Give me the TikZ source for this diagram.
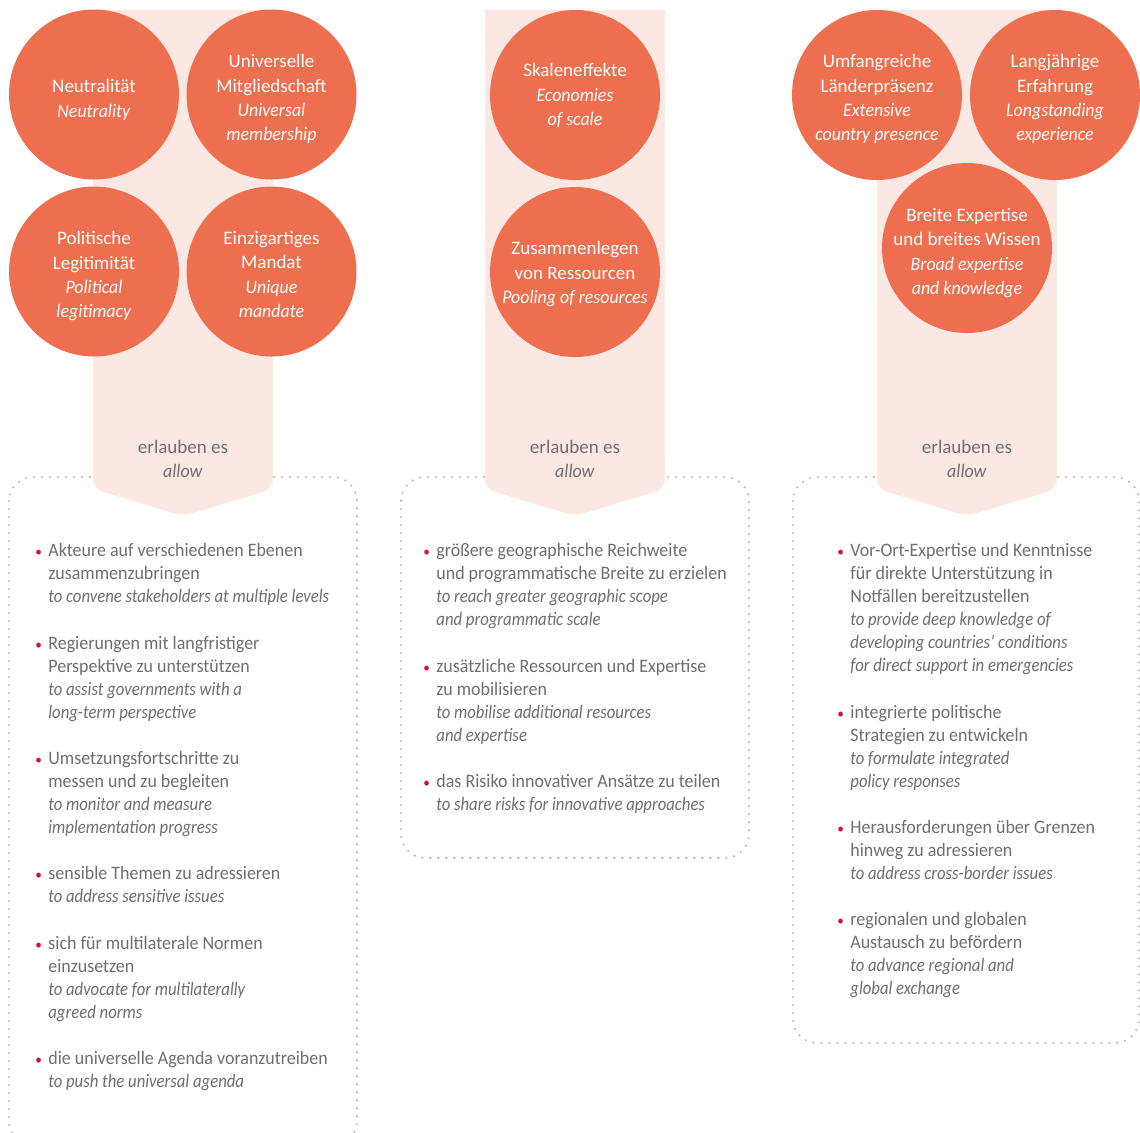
\documentclass[tikz,border=0pt]{standalone}
\usepackage{fontspec}
\setmainfont{Carlito}[ItalicFeatures={FakeStretch=0.94}]
\newfontfamily\gainfont{Carlito}[UprightFeatures={FakeStretch=0.945}, ItalicFeatures={FakeStretch=0.88}]
\usetikzlibrary{positioning}
\definecolor{circfill}{HTML}{EE6F4F}
\definecolor{bandpink}{HTML}{FCE8E3}
\definecolor{textgray}{HTML}{6E6E6E}
\definecolor{dotgray}{HTML}{BBBBBB}
\definecolor{bulletred}{HTML}{D4103C}
\newcommand\redbullet{\llap{\textcolor{bulletred}{\scriptsize\textbullet}\hspace{3.2pt}}}
\tikzset{band/.style = {fill=bandpink},
         topic/.style = {circle, fill=circfill, minimum size=85pt, inner sep=0pt},
         topictext/.style = {anchor=north, inner sep=0pt, text=white, align=center,
                             font=\fontsize{9.5}{12.2}\selectfont},
         allowlabel/.style = {text=textgray, align=center, font=\fontsize{9.5}{12}\selectfont},
         gainbox/.style = {draw=dotgray, line width=1.2pt, line cap=round,
                           dash pattern=on 0pt off 4pt, rounded corners=12pt},
         gain/.style = {anchor=north west, inner sep=0pt, text=textgray, align=left,
                        font=\gainfont\fontsize{9.5}{11.5}\selectfont}}

\begin{document}
\begin{tikzpicture}[x=0.5pt, y=-0.5pt]
    \useasboundingbox (0, 0) rectangle (1140, 1132);

    % dotted frames
    \draw [gainbox] (9, 477) rectangle (357, 1145);
    \draw [gainbox] (401, 477) rectangle (749, 858);
    \draw [gainbox] (793, 477) rectangle (1139, 1043);

    % pink bands ending in an arrow
    \foreach \cx in {183, 575, 967} {
      \fill [band] (\cx-90, 10) rectangle (\cx+90, 470);
      \fill [band, rounded corners=5pt] (\cx-90, 440) -- (\cx+90, 440) -- (\cx+90, 489) -- (\cx, 516) -- (\cx-90, 489) -- cycle;
      \node [allowlabel] (allow\cx) at (\cx, 459) {erlauben es\\\textit{allow}};
    }

    % strengths
    \foreach \name/\x/\y in {neutral/94/94.5, member/271.5/94.5, legit/94/271.5, mandate/271.5/271.5,
                             scale/575/95, pooling/575/272,
                             presence/877/95, experience/1055/95, expertise/967/248} {
      \node [topic] (\name) at (\x, \y) {};
    }
    \node [topictext] (neutraltext) at (94, 79) {Neutralität\\\textit{Neutrality}};
    \node [topictext] (membertext) at (271.5, 54) {Universelle\\Mitgliedschaft\\\textit{Universal}\\\textit{membership}};
    \node [topictext] (legittext) at (94, 231) {Politische\\Legitimität\\\textit{Political}\\\textit{legitimacy}};
    \node [topictext] (mandatetext) at (271.5, 231) {Einzigartiges\\Mandat\\\textit{Unique}\\\textit{mandate}};

    \node [topictext] (scaletext) at (575, 63) {Skaleneffekte\\\textit{Economies}\\\textit{of scale}};
    \node [topictext] (poolingtext) at (575, 241) {Zusammenlegen\\von Ressourcen\\\textit{Pooling of resources}};

    \node [topictext] (presencetext) at (877, 54) {Umfangreiche\\Länderpräsenz\\\textit{Extensive}\\\textit{country presence}};
    \node [topictext] (experiencetext) at (1055, 54) {Langjährige\\Erfahrung\\\textit{Longstanding}\\\textit{experience}};
    \node [topictext] (expertisetext) at (967, 208) {Breite Expertise\\und breites Wissen\\\textit{Broad expertise}\\\textit{and knowledge}};

    % what they allow
    \node [gain] (convene) at (48, 542.5) {\redbullet Akteure auf verschiedenen Ebenen\\zusammenzubringen\\\textit{to convene stakeholders at multiple levels}};
    \node [gain] (assist) at (48, 635.5) {\redbullet Regierungen mit langfristiger\\Perspektive zu unterstützen\\\textit{to assist governments with a}\\\textit{long-term perspective}};
    \node [gain] (monitor) at (48, 750.5) {\redbullet Umsetzungsfortschritte zu\\messen und zu begleiten\\\textit{to monitor and measure}\\\textit{implementation progress}};
    \node [gain] (sensitive) at (48, 865.5) {\redbullet sensible Themen zu adressieren\\\textit{to address sensitive issues}};
    \node [gain] (norms) at (48, 935.5) {\redbullet sich für multilaterale Normen\\einzusetzen\\\textit{to advocate for multilaterally}\\\textit{agreed norms}};
    \node [gain] (agenda) at (48, 1050.5) {\redbullet die universelle Agenda voranzutreiben\\\textit{to push the universal agenda}};

    \node [gain] (reach) at (436, 542.5) {\redbullet größere geographische Reichweite\\und programmatische Breite zu erzielen\\\textit{to reach greater geographic scope}\\\textit{and programmatic scale}};
    \node [gain] (mobilise) at (436, 658.5) {\redbullet zusätzliche Ressourcen und Expertise\\zu mobilisieren\\\textit{to mobilise additional resources}\\\textit{and expertise}};
    \node [gain] (risks) at (436, 773.5) {\redbullet das Risiko innovativer Ansätze zu teilen\\\textit{to share risks for innovative approaches}};

    \node [gain] (support) at (850, 542.5) {\redbullet Vor-Ort-Expertise und Kenntnisse\\für direkte Unterstützung in\\Notfällen bereitzustellen\\\textit{to provide deep knowledge of}\\\textit{developing countries’ conditions}\\\textit{for direct support in emergencies}};
    \node [gain] (policy) at (850, 704.5) {\redbullet integrierte politische\\Strategien zu entwickeln\\\textit{to formulate integrated}\\\textit{policy responses}};
    \node [gain] (border) at (850, 819.5) {\redbullet Herausforderungen über Grenzen\\hinweg zu adressieren\\\textit{to address cross-border issues}};
    \node [gain] (exchange) at (850, 911.5) {\redbullet regionalen und globalen\\Austausch zu befördern\\\textit{to advance regional and}\\\textit{global exchange}};
  \end{tikzpicture}
\end{document}
